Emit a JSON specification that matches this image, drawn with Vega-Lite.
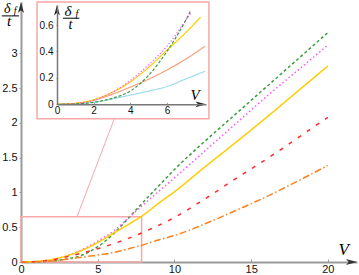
{
  "$schema": "https://vega.github.io/schema/vega-lite/v6.json",
  "width": 336,
  "height": 260,
  "autosize": "none",
  "padding": {"left": 21, "top": 2, "right": 2, "bottom": 13},
  "background": "white",
  "config": {
    "view": {"stroke": null},
    "axis": {"grid": false, "labelFont": "Liberation Sans", "labelColor": "#111", "labelFlush": false, "labelOverlap": false, "labelBound": false}
  },
  "datasets": {
    "main": [
      {"s": "g", "V": 0, "y": 0}, {"s": "g", "V": 1, "y": 0.003}, {"s": "g", "V": 2, "y": 0.015}, {"s": "g", "V": 3, "y": 0.045}, {"s": "g", "V": 4, "y": 0.1}, {"s": "g", "V": 5, "y": 0.22}, {"s": "g", "V": 6, "y": 0.4}, {"s": "g", "V": 7, "y": 0.63}, {"s": "g", "V": 8, "y": 0.87}, {"s": "g", "V": 9, "y": 1.1}, {"s": "g", "V": 10, "y": 1.33}, {"s": "g", "V": 12, "y": 1.74}, {"s": "g", "V": 14, "y": 2.13}, {"s": "g", "V": 16, "y": 2.52}, {"s": "g", "V": 18, "y": 2.91}, {"s": "g", "V": 20, "y": 3.3},
      {"s": "m", "V": 0, "y": 0}, {"s": "m", "V": 1, "y": 0.006}, {"s": "m", "V": 2, "y": 0.03}, {"s": "m", "V": 3, "y": 0.09}, {"s": "m", "V": 4, "y": 0.18}, {"s": "m", "V": 5, "y": 0.3}, {"s": "m", "V": 6, "y": 0.44}, {"s": "m", "V": 7, "y": 0.63}, {"s": "m", "V": 8, "y": 0.83}, {"s": "m", "V": 9, "y": 1.02}, {"s": "m", "V": 10, "y": 1.21}, {"s": "m", "V": 12, "y": 1.6}, {"s": "m", "V": 14, "y": 1.99}, {"s": "m", "V": 16, "y": 2.38}, {"s": "m", "V": 18, "y": 2.75}, {"s": "m", "V": 20, "y": 3.12},
      {"s": "y", "V": 0, "y": 0}, {"s": "y", "V": 1, "y": 0.008}, {"s": "y", "V": 2, "y": 0.035}, {"s": "y", "V": 3, "y": 0.09}, {"s": "y", "V": 4, "y": 0.17}, {"s": "y", "V": 5, "y": 0.28}, {"s": "y", "V": 6, "y": 0.41}, {"s": "y", "V": 7, "y": 0.54}, {"s": "y", "V": 8, "y": 0.68}, {"s": "y", "V": 9, "y": 0.85}, {"s": "y", "V": 10, "y": 1.01}, {"s": "y", "V": 12, "y": 1.37}, {"s": "y", "V": 14, "y": 1.72}, {"s": "y", "V": 16, "y": 2.08}, {"s": "y", "V": 18, "y": 2.45}, {"s": "y", "V": 20, "y": 2.82},
      {"s": "r", "V": 0, "y": 0}, {"s": "r", "V": 1, "y": 0.006}, {"s": "r", "V": 2, "y": 0.03}, {"s": "r", "V": 3, "y": 0.075}, {"s": "r", "V": 4, "y": 0.13}, {"s": "r", "V": 5, "y": 0.19}, {"s": "r", "V": 6, "y": 0.26}, {"s": "r", "V": 7, "y": 0.34}, {"s": "r", "V": 8, "y": 0.43}, {"s": "r", "V": 9, "y": 0.53}, {"s": "r", "V": 10, "y": 0.64}, {"s": "r", "V": 12, "y": 0.91}, {"s": "r", "V": 14, "y": 1.2}, {"s": "r", "V": 16, "y": 1.48}, {"s": "r", "V": 18, "y": 1.78}, {"s": "r", "V": 20, "y": 2.08},
      {"s": "o", "V": 0, "y": 0}, {"s": "o", "V": 1, "y": 0.003}, {"s": "o", "V": 2, "y": 0.015}, {"s": "o", "V": 3, "y": 0.04}, {"s": "o", "V": 4, "y": 0.07}, {"s": "o", "V": 5, "y": 0.1}, {"s": "o", "V": 6, "y": 0.135}, {"s": "o", "V": 7, "y": 0.19}, {"s": "o", "V": 8, "y": 0.25}, {"s": "o", "V": 9, "y": 0.32}, {"s": "o", "V": 10, "y": 0.38}, {"s": "o", "V": 12, "y": 0.55}, {"s": "o", "V": 14, "y": 0.74}, {"s": "o", "V": 16, "y": 0.94}, {"s": "o", "V": 18, "y": 1.16}, {"s": "o", "V": 20, "y": 1.39}
    ],
    "inset": [
      {"s": "b", "V": 0, "y": 0}, {"s": "b", "V": 1, "y": 0.003}, {"s": "b", "V": 2, "y": 0.015}, {"s": "b", "V": 3, "y": 0.04}, {"s": "b", "V": 4, "y": 0.07}, {"s": "b", "V": 5, "y": 0.1}, {"s": "b", "V": 6, "y": 0.135}, {"s": "b", "V": 7, "y": 0.19}, {"s": "b", "V": 8.07, "y": 0.25},
      {"s": "sa", "V": 0, "y": 0}, {"s": "sa", "V": 1, "y": 0.006}, {"s": "sa", "V": 2, "y": 0.03}, {"s": "sa", "V": 3, "y": 0.075}, {"s": "sa", "V": 4, "y": 0.13}, {"s": "sa", "V": 5, "y": 0.19}, {"s": "sa", "V": 6, "y": 0.26}, {"s": "sa", "V": 7, "y": 0.34}, {"s": "sa", "V": 8.07, "y": 0.44},
      {"s": "y", "V": 0, "y": 0}, {"s": "y", "V": 1, "y": 0.008}, {"s": "y", "V": 2, "y": 0.035}, {"s": "y", "V": 3, "y": 0.09}, {"s": "y", "V": 4, "y": 0.17}, {"s": "y", "V": 5, "y": 0.28}, {"s": "y", "V": 6, "y": 0.41}, {"s": "y", "V": 7, "y": 0.54}, {"s": "y", "V": 7.84, "y": 0.66},
      {"s": "m", "V": 0, "y": 0}, {"s": "m", "V": 1, "y": 0.006}, {"s": "m", "V": 2, "y": 0.03}, {"s": "m", "V": 3, "y": 0.09}, {"s": "m", "V": 4, "y": 0.18}, {"s": "m", "V": 5, "y": 0.3}, {"s": "m", "V": 6, "y": 0.44}, {"s": "m", "V": 7, "y": 0.63}, {"s": "m", "V": 7.35, "y": 0.7},
      {"s": "g", "V": 0, "y": 0}, {"s": "g", "V": 1, "y": 0.003}, {"s": "g", "V": 2, "y": 0.015}, {"s": "g", "V": 3, "y": 0.045}, {"s": "g", "V": 4, "y": 0.1}, {"s": "g", "V": 5, "y": 0.22}, {"s": "g", "V": 6, "y": 0.4}, {"s": "g", "V": 7, "y": 0.63}, {"s": "g", "V": 7.3, "y": 0.71}
    ]
  },
  "layer": [
    {
      "layer": [
        {
          "data": {"values": [{"x": 0, "x2": 7.86, "y": 0, "y2": 0.652}]},
          "mark": {"type": "rect", "fill": null, "stroke": "#f7a8a8", "strokeWidth": 1.5},
          "encoding": {
            "x": {"field": "x", "type": "quantitative", "scale": {"domain": [0, 21.9], "nice": false, "zero": false},
              "axis": {"values": [0, 5, 10, 15, 20], "title": null, "domainColor": "#9a9a9a", "domainWidth": 2, "tickColor": "#9a9a9a", "tickSize": -3, "tickWidth": 1, "labelFontSize": 11, "labelPadding": 4}},
            "x2": {"field": "x2"},
            "y": {"field": "y", "type": "quantitative", "scale": {"domain": [0, 3.74], "nice": false, "zero": false},
              "axis": {"values": [0, 0.5, 1, 1.5, 2, 2.5, 3], "format": "~g", "title": null, "domainColor": "#9a9a9a", "domainWidth": 2, "tickColor": "#9a9a9a", "tickSize": 2, "tickWidth": 1, "labelFontSize": 11, "labelPadding": 2}},
            "y2": {"field": "y2"}
          }
        },
        {
          "data": {"values": [{"x": 3.65, "y": 0.652, "x2": 6.08, "y2": 2.06}]},
          "mark": {"type": "rule", "stroke": "#f7a8a8", "strokeWidth": 1},
          "encoding": {
            "x": {"field": "x", "type": "quantitative"}, "x2": {"field": "x2"},
            "y": {"field": "y", "type": "quantitative"}, "y2": {"field": "y2"}
          }
        },
        {
          "data": {"name": "main"},
          "mark": {"type": "line", "strokeWidth": 1.5, "interpolate": "monotone"},
          "encoding": {
            "x": {"field": "V", "type": "quantitative"},
            "y": {"field": "y", "type": "quantitative"},
            "color": {"field": "s", "type": "nominal", "legend": null,
              "scale": {"domain": ["g", "m", "y", "r", "o"], "range": ["#3d9c3d", "#ff55ff", "#ffcc00", "#ff2a2a", "#ff8020"]}},
            "strokeDash": {"field": "s", "type": "nominal", "legend": null,
              "scale": {"domain": ["g", "m", "y", "r", "o"], "range": [[3, 2.5], [1.5, 2.5], [1, 0], [4, 7], [7, 2.5, 1.5, 2.5]]}}
          }
        },
        {
          "data": {"values": [{"V": 21.9, "y": 0, "d": "right"}, {"V": 0, "y": 3.74, "d": "up"}]},
          "mark": {"type": "point", "filled": true, "color": "#333", "size": 121, "opacity": 1},
          "encoding": {
            "x": {"field": "V", "type": "quantitative"},
            "y": {"field": "y", "type": "quantitative"},
            "shape": {"field": "d", "type": "nominal", "legend": null,
              "scale": {"domain": ["right", "up"], "range": ["M 0 0 L -2 -0.55 L -1.5 0 L -2 0.55 Z", "M 0 0 L -0.55 2 L 0 1.5 L 0.55 2 Z"]}}
          }
        },
        {
          "data": {"values": [{"x": -1.25, "x2": -0.13, "y": 3.54}]},
          "mark": {"type": "rule", "stroke": "#000", "strokeWidth": 1},
          "encoding": {
            "x": {"field": "x", "type": "quantitative"}, "x2": {"field": "x2"},
            "y": {"field": "y", "type": "quantitative"}
          }
        },
        {
          "data": {"values": [{"t": "δ", "V": -0.9, "y": 3.585}]},
          "mark": {"type": "text", "font": "Liberation Serif", "fontStyle": "italic", "fontSize": 14, "baseline": "alphabetic", "align": "center"},
          "encoding": {"x": {"field": "V", "type": "quantitative"}, "y": {"field": "y", "type": "quantitative"}, "text": {"field": "t"}}
        },
        {
          "data": {"values": [{"t": "f", "V": -0.38, "y": 3.567}]},
          "mark": {"type": "text", "font": "Liberation Serif", "fontStyle": "italic", "fontSize": 10, "baseline": "alphabetic", "align": "center"},
          "encoding": {"x": {"field": "V", "type": "quantitative"}, "y": {"field": "y", "type": "quantitative"}, "text": {"field": "t"}}
        },
        {
          "data": {"values": [{"t": "t", "V": -0.78, "y": 3.39}]},
          "mark": {"type": "text", "font": "Liberation Serif", "fontStyle": "italic", "fontSize": 15, "baseline": "alphabetic", "align": "center"},
          "encoding": {"x": {"field": "V", "type": "quantitative"}, "y": {"field": "y", "type": "quantitative"}, "text": {"field": "t"}}
        },
        {
          "data": {"values": [{"t": "V", "V": 21.04, "y": 0.1}]},
          "mark": {"type": "text", "font": "Liberation Serif", "fontStyle": "italic", "fontSize": 17, "baseline": "alphabetic", "align": "center"},
          "encoding": {"x": {"field": "V", "type": "quantitative"}, "y": {"field": "y", "type": "quantitative"}, "text": {"field": "t"}}
        }
      ]
    },
    {
      "layer": [
        {
          "data": {"values": [{"x": -1.09, "x2": 8.29, "y": -0.11, "y2": 0.775}]},
          "mark": {"type": "rect", "fill": "white", "stroke": "#f7a8a8", "strokeWidth": 1.5},
          "encoding": {
            "x": {"field": "x", "type": "quantitative", "scale": {"domain": [0, 8.13], "range": [36, 185], "nice": false, "zero": false},
              "axis": {"orient": "bottom", "offset": -157.7, "zindex": 2, "values": [0, 2, 4, 6], "title": null, "domainColor": "#777", "domainWidth": 1.5, "tickColor": "#999", "tickSize": -2, "labelFontSize": 10, "labelPadding": 3}},
            "x2": {"field": "x2"},
            "y": {"field": "y", "type": "quantitative", "scale": {"domain": [0, 0.752], "range": [102.3, 3], "nice": false, "zero": false},
              "axis": {"orient": "left", "offset": -36, "zindex": 2, "values": [0, 0.2, 0.4, 0.6], "format": "~g", "title": null, "domainColor": "#777", "domainWidth": 1.5, "tickColor": "#999", "tickSize": 1, "labelFontSize": 10, "labelPadding": 3}},
            "y2": {"field": "y2"}
          }
        },
        {
          "data": {"name": "inset"},
          "mark": {"type": "line", "strokeWidth": 1.2, "interpolate": "monotone"},
          "encoding": {
            "x": {"field": "V", "type": "quantitative"},
            "y": {"field": "y", "type": "quantitative"},
            "color": {"field": "s", "type": "nominal", "legend": null,
              "scale": {"domain": ["b", "sa", "y", "m", "g"], "range": ["#9ddcf2", "#f4a07c", "#ffcc00", "#ff55ff", "#3d9c3d"]}},
            "strokeDash": {"field": "s", "type": "nominal", "legend": null,
              "scale": {"domain": ["b", "sa", "y", "m", "g"], "range": [[1, 0], [1, 0], [1, 0], [1.3, 2], [3, 1.8]]}}
          }
        },
        {
          "data": {"values": [{"V": 8.13, "y": 0, "d": "right"}, {"V": 0, "y": 0.752, "d": "up"}]},
          "mark": {"type": "point", "filled": true, "color": "#222", "size": 110, "opacity": 1, "zindex": 3},
          "encoding": {
            "x": {"field": "V", "type": "quantitative"},
            "y": {"field": "y", "type": "quantitative"},
            "shape": {"field": "d", "type": "nominal", "legend": null,
              "scale": {"domain": ["right", "up"], "range": ["M 0 0 L -2 -0.55 L -1.5 0 L -2 0.55 Z", "M 0 0 L -0.55 2 L 0 1.5 L 0.55 2 Z"]}}
          }
        },
        {
          "data": {"values": [{"x": 0.33, "x2": 1.22, "y": 0.652}]},
          "mark": {"type": "rule", "stroke": "#000", "strokeWidth": 1},
          "encoding": {
            "x": {"field": "x", "type": "quantitative"}, "x2": {"field": "x2"},
            "y": {"field": "y", "type": "quantitative"}
          }
        },
        {
          "data": {"values": [{"t": "δ", "V": 0.6, "y": 0.672}]},
          "mark": {"type": "text", "font": "Liberation Serif", "fontStyle": "italic", "fontSize": 15, "baseline": "alphabetic", "align": "center"},
          "encoding": {"x": {"field": "V", "type": "quantitative"}, "y": {"field": "y", "type": "quantitative"}, "text": {"field": "t"}}
        },
        {
          "data": {"values": [{"t": "f", "V": 1.08, "y": 0.664}]},
          "mark": {"type": "text", "font": "Liberation Serif", "fontStyle": "italic", "fontSize": 10, "baseline": "alphabetic", "align": "center"},
          "encoding": {"x": {"field": "V", "type": "quantitative"}, "y": {"field": "y", "type": "quantitative"}, "text": {"field": "t"}}
        },
        {
          "data": {"values": [{"t": "t", "V": 0.74, "y": 0.572}]},
          "mark": {"type": "text", "font": "Liberation Serif", "fontStyle": "italic", "fontSize": 14, "baseline": "alphabetic", "align": "center"},
          "encoding": {"x": {"field": "V", "type": "quantitative"}, "y": {"field": "y", "type": "quantitative"}, "text": {"field": "t"}}
        },
        {
          "data": {"values": [{"t": "V", "V": 7.53, "y": 0.033}]},
          "mark": {"type": "text", "font": "Liberation Serif", "fontStyle": "italic", "fontSize": 15, "baseline": "alphabetic", "align": "center"},
          "encoding": {"x": {"field": "V", "type": "quantitative"}, "y": {"field": "y", "type": "quantitative"}, "text": {"field": "t"}}
        }
      ]
    }
  ],
  "resolve": {"scale": {"x": "independent", "y": "independent", "color": "independent", "strokeDash": "independent", "shape": "independent"}}
}
